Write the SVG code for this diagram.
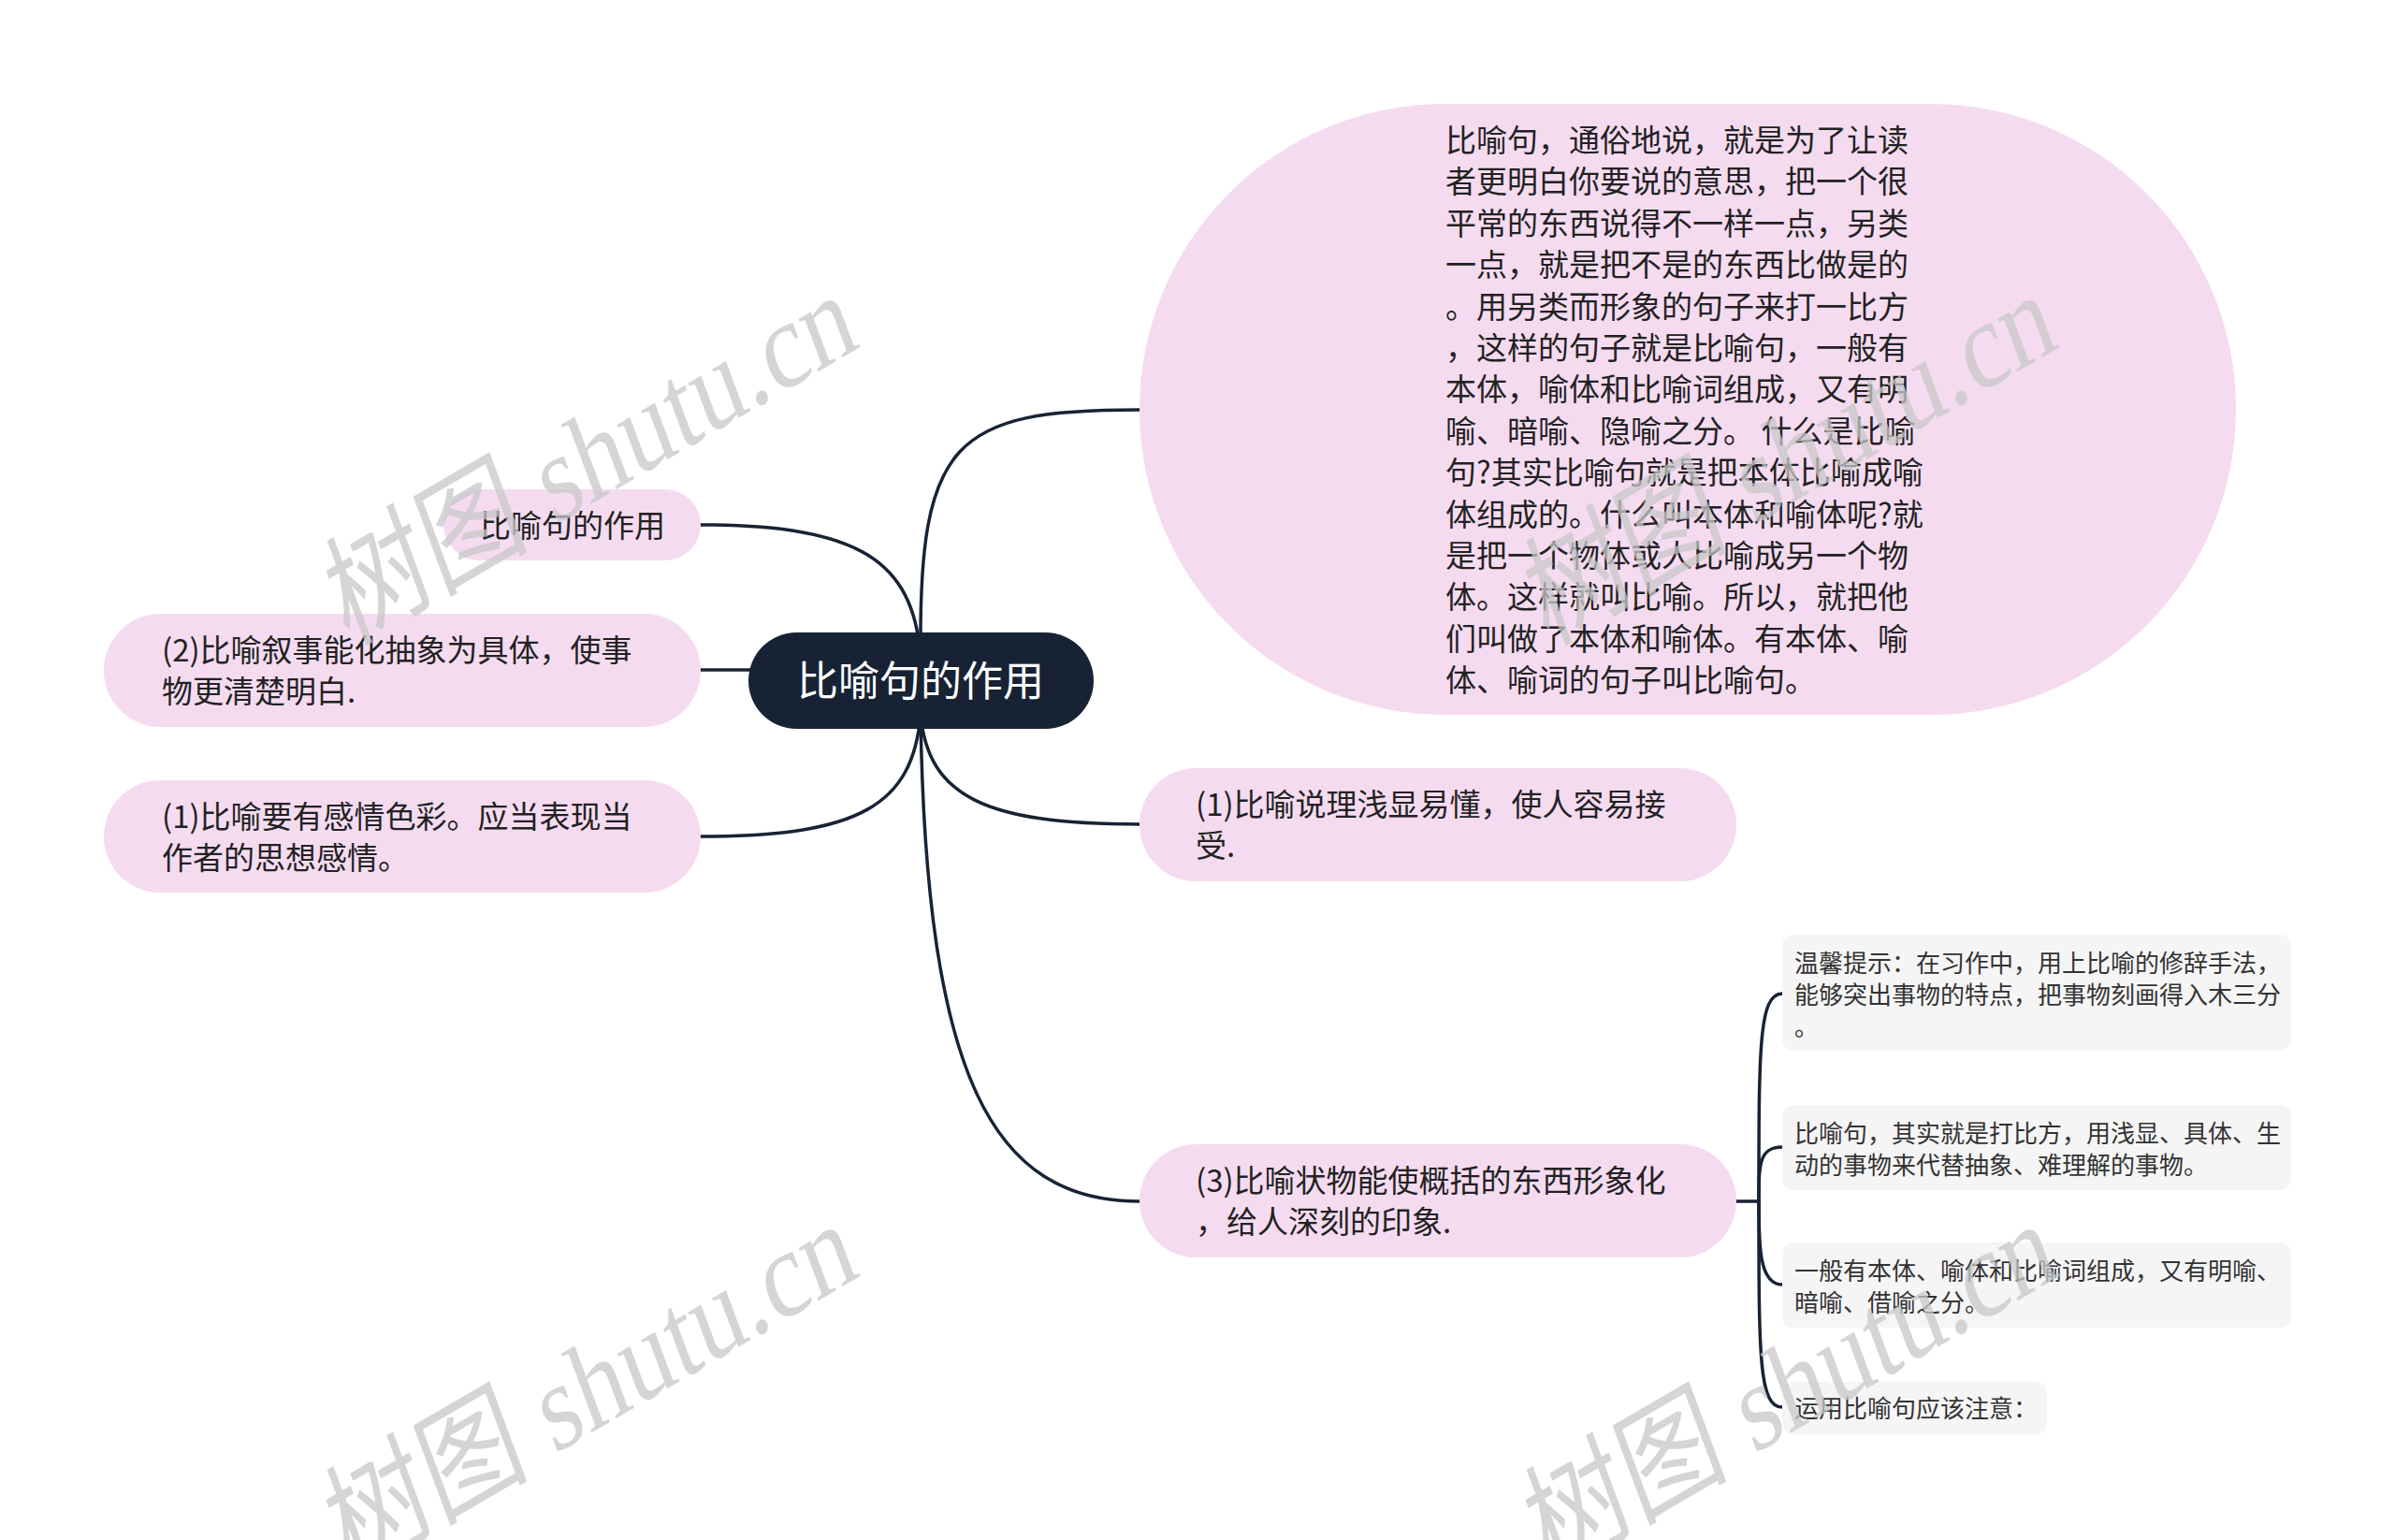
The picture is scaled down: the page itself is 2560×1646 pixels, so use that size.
<svg xmlns="http://www.w3.org/2000/svg" width="2560" height="1646" viewBox="0 0 2560 1646">
<style>
.bg{fill:#ffffff}
.pink{fill:#f5dbf0}
.root{fill:#172334}
.sub{fill:#f5f5f5}
.t{font-family:"Noto Sans CJK SC","Noto Sans",sans-serif;fill:#222222}
.t33{font-size:33px}
.t26{font-size:26px;fill:#333333}
.troot{font-family:"Noto Sans CJK SC","Noto Sans",sans-serif;font-size:44px;fill:#ffffff}
.conn{fill:none;stroke:#172334;stroke-width:3.5;stroke-linecap:round}
.wm{font-family:"Liberation Serif","Noto Sans CJK SC",serif;font-size:108px;fill:#c8c8c8;opacity:0.75}
</style>
<rect class="bg" x="0" y="0" width="2560" height="1646"/>

<g id="connectors">
  <path class="conn" d="M984,700 C982,470 1020,438 1218,438"/>
  <path class="conn" d="M984,700 C975,600 920,561 749,561"/>
  <path class="conn" d="M749,716 L830,716"/>
  <path class="conn" d="M984,765 C975,860 920,894 749,894"/>
  <path class="conn" d="M984,765 C993,850 1050,881 1218,881"/>
  <path class="conn" d="M984,765 C990,1150 1060,1284 1218,1284"/>
  <path class="conn" d="M1856,1284 L1880,1284"/>
  <path class="conn" d="M1880,1284 C1880,1120 1880,1062 1905,1062"/>
  <path class="conn" d="M1880,1284 C1880,1245 1880,1226 1905,1226"/>
  <path class="conn" d="M1880,1284 C1880,1330 1880,1373 1905,1373"/>
  <path class="conn" d="M1880,1284 C1880,1450 1880,1504 1905,1504"/>
</g>

<g id="node-root">
  <rect class="root" x="800" y="676" width="369" height="103" rx="51.5"/>
  <text class="troot" x="984" y="744" text-anchor="middle">比喻句的作用</text>
</g>

<g id="node-definition">
  <rect class="pink" x="1218" y="111" width="1172" height="653" rx="326.5"/>
  <text class="t t33" x="1545">
    <tspan x="1545" y="162">比喻句，通俗地说，就是为了让读</tspan>
    <tspan x="1545" y="206.4">者更明白你要说的意思，把一个很</tspan>
    <tspan x="1545" y="250.8">平常的东西说得不一样一点，另类</tspan>
    <tspan x="1545" y="295.2">一点，就是把不是的东西比做是的</tspan>
    <tspan x="1545" y="339.6">。用另类而形象的句子来打一比方</tspan>
    <tspan x="1545" y="384">，这样的句子就是比喻句，一般有</tspan>
    <tspan x="1545" y="428.4">本体，喻体和比喻词组成，又有明</tspan>
    <tspan x="1545" y="472.8">喻、暗喻、隐喻之分。 什么是比喻</tspan>
    <tspan x="1545" y="517.2">句?其实比喻句就是把本体比喻成喻</tspan>
    <tspan x="1545" y="561.6">体组成的。什么叫本体和喻体呢?就</tspan>
    <tspan x="1545" y="606">是把一个物体或人比喻成另一个物</tspan>
    <tspan x="1545" y="650.4">体。这样就叫比喻。所以，就把他</tspan>
    <tspan x="1545" y="694.8">们叫做了本体和喻体。有本体、喻</tspan>
    <tspan x="1545" y="739.2">体、喻词的句子叫比喻句。</tspan>
  </text>
</g>

<g id="node-title-left">
  <rect class="pink" x="474" y="523" width="275" height="76" rx="38"/>
  <text class="t t33" x="513" y="573.5">比喻句的作用</text>
</g>

<g id="node-left-2">
  <rect class="pink" x="111" y="656" width="638" height="121" rx="60.5"/>
  <text class="t t33">
    <tspan x="173" y="706.5">(2)比喻叙事能化抽象为具体，使事</tspan>
    <tspan x="173" y="750.5">物更清楚明白.</tspan>
  </text>
</g>

<g id="node-left-1">
  <rect class="pink" x="111" y="834" width="638" height="120" rx="60"/>
  <text class="t t33">
    <tspan x="173" y="884.5">(1)比喻要有感情色彩。应当表现当</tspan>
    <tspan x="173" y="928.5">作者的思想感情。</tspan>
  </text>
</g>

<g id="node-right-1">
  <rect class="pink" x="1218" y="821" width="638" height="121" rx="60.5"/>
  <text class="t t33">
    <tspan x="1278" y="872">(1)比喻说理浅显易懂，使人容易接</tspan>
    <tspan x="1278" y="916">受.</tspan>
  </text>
</g>

<g id="node-right-3">
  <rect class="pink" x="1218" y="1223" width="638" height="121" rx="60.5"/>
  <text class="t t33">
    <tspan x="1278" y="1274">(3)比喻状物能使概括的东西形象化</tspan>
    <tspan x="1278" y="1318">，给人深刻的印象.</tspan>
  </text>
</g>

<g id="node-tip">
  <rect class="sub" x="1905" y="999" width="544" height="124" rx="12"/>
  <text class="t t26">
    <tspan x="1918" y="1039">温馨提示：在习作中，用上比喻的修辞手法，</tspan>
    <tspan x="1918" y="1073">能够突出事物的特点，把事物刻画得入木三分</tspan>
    <tspan x="1918" y="1107">。</tspan>
  </text>
</g>

<g id="node-explain">
  <rect class="sub" x="1905" y="1181" width="544" height="91" rx="12"/>
  <text class="t t26">
    <tspan x="1918" y="1221">比喻句，其实就是打比方，用浅显、具体、生</tspan>
    <tspan x="1918" y="1255">动的事物来代替抽象、难理解的事物。</tspan>
  </text>
</g>

<g id="node-parts">
  <rect class="sub" x="1905" y="1328" width="544" height="91" rx="12"/>
  <text class="t t26">
    <tspan x="1918" y="1368">一般有本体、喻体和比喻词组成，又有明喻、</tspan>
    <tspan x="1918" y="1402">暗喻、借喻之分。</tspan>
  </text>
</g>

<g id="node-note">
  <rect class="sub" x="1905" y="1477" width="283" height="56" rx="12"/>
  <text class="t t26" x="1918" y="1515">运用比喻句应该注意：</text>
</g>

<g id="watermarks">
  <text class="wm" transform="translate(372,690) scale(1,1.25) rotate(-25)">树图 shutu.cn</text>
  <text class="wm" transform="translate(1654,690) scale(1,1.25) rotate(-25)">树图 shutu.cn</text>
  <text class="wm" transform="translate(372,1683) scale(1,1.25) rotate(-25)">树图 shutu.cn</text>
  <text class="wm" transform="translate(1654,1683) scale(1,1.25) rotate(-25)">树图 shutu.cn</text>
</g>
</svg>
